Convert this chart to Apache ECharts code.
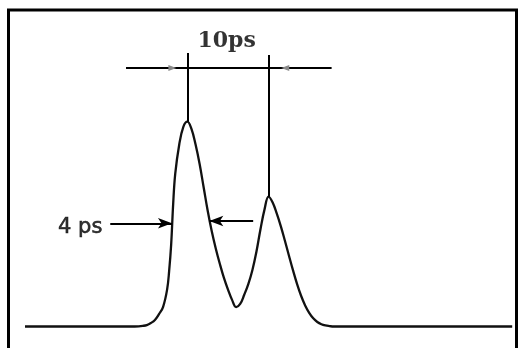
<!DOCTYPE html>
<html>
<head>
<meta charset="utf-8">
<script src="https://cdn.jsdelivr.net/npm/echarts@6/dist/echarts.min.js"></script>
<style>
html,body{margin:0;padding:0;background:#fff;}
#c{width:523px;height:348px;}
</style>
</head>
<body>
<div id="c"></div>
<script>
// time in ps (peak 1 at 0 ps), relative intensity (peak 1 = 1)
const timePs = [-20, -8, -7, -6, -5.5, -5, -4.5, -4, -3.5, -3, -2.5, -2.25, -2, -1.75, -1.5, -1, -0.5, 0,
  0.5, 1, 1.5, 2, 2.5, 3, 3.5, 4, 4.5, 5, 5.5, 6, 6.5, 7, 7.5, 8, 8.5, 9, 9.5, 10,
  10.5, 11, 11.5, 12, 12.5, 13, 13.5, 14, 14.5, 15, 15.5, 16, 16.5, 17, 17.5, 18, 19, 40];
const intensity = [0, 0, 0, 0.001, 0.003, 0.007, 0.017, 0.032, 0.06, 0.095, 0.18, 0.27, 0.40, 0.60, 0.745, 0.89, 0.975, 1.0,
  0.965, 0.89, 0.795, 0.68, 0.565, 0.465, 0.38, 0.305, 0.237, 0.18, 0.13, 0.095, 0.11, 0.155, 0.207, 0.275, 0.365, 0.475, 0.572, 0.634,
  0.605, 0.552, 0.49, 0.42, 0.347, 0.275, 0.208, 0.15, 0.103, 0.067, 0.04, 0.022, 0.011, 0.005, 0.002, 0, 0, 0];
const peakTimes = [0, 10];
const peakHeights = [1.0, 0.634];
const fwhmEdges = [-1.8, 2.6];     // half-width edges of pulse 1 (4 ps label)
const labelSep = '10ps';
const labelWidth = '4 ps';

const curve = timePs.map((t, i) => [t, intensity[i]]);
const dimTop = [1.335, 1.326];
const dimY = 1.262;
const fwhmY = [0.504, 0.515];

const chart = echarts.init(document.getElementById('c'), null, {renderer: 'canvas'});
const ink = '#111';
chart.setOption({
  animation: false,
  backgroundColor: '#fff',
  grid: {left: 25, right: 10.8, top: 19.3, bottom: 21.5},
  xAxis: {type: 'value', min: -20, max: 40, show: false},
  yAxis: {type: 'value', min: 0, max: 1.5, show: false},
  graphic: [{
    type: 'rect', shape: {x: 8.5, y: 10, width: 508, height: 400},
    style: {fill: 'none', stroke: '#000', lineWidth: 3}, silent: true
  }],
  series: [
    {
      type: 'line', data: curve, smooth: 0.4, symbol: 'none', clip: false,
      lineStyle: {color: ink, width: 2.3}, silent: true,
      markLine: {
        silent: true, symbol: 'none', label: {show: false},
        lineStyle: {color: '#000', width: 2, type: 'solid', opacity: 1},
        data: [
          [{coord: [peakTimes[0], peakHeights[0]]}, {coord: [peakTimes[0], dimTop[0]]}],
          [{coord: [peakTimes[1], peakHeights[1]]}, {coord: [peakTimes[1], dimTop[1]]}],
          [{coord: [-7.56, dimY]}, {coord: [17.76, dimY]}]
        ]
      }
    },
    {
      type: 'line', data: [], symbol: 'none', silent: true,
      markLine: {
        silent: true, symbol: ['none', 'arrow'], symbolSize: [8, 14], label: {show: false},
        lineStyle: {color: '#000', width: 2, type: 'solid', opacity: 1},
        data: [
          [{coord: [-9.5, fwhmY[0]]}, {coord: [fwhmEdges[0] - 0.1, fwhmY[0]]}],
          [{coord: [8.1, fwhmY[1]]}, {coord: [fwhmEdges[1] + 0.1, fwhmY[1]]}]
        ]
      },
      markPoint: {
        silent: true, symbol: 'triangle', symbolSize: [6, 8], label: {show: false},
        itemStyle: {color: '#8a8a8a'},
        data: [
          {coord: [-1.85, dimY], symbolRotate: -90},
          {coord: [12.05, dimY], symbolRotate: 90}
        ]
      }
    },
    {
      type: 'scatter', symbolSize: 1, silent: true, clip: false,
      itemStyle: {color: 'transparent'},
      data: [
        {value: [4.83, 1.392], label: {show: true, position: 'inside', formatter: labelSep,
          fontFamily: 'DejaVu Serif', fontWeight: 'bold', fontSize: 22, color: '#000'}},
        {value: [-13.2, 0.483], label: {show: true, position: 'inside', formatter: labelWidth,
          fontFamily: 'DejaVu Sans', fontSize: 21, color: '#000',
          textBorderColor: '#000', textBorderWidth: 0.6}}
      ]
    }
  ]
});
</script>
</body>
</html>
